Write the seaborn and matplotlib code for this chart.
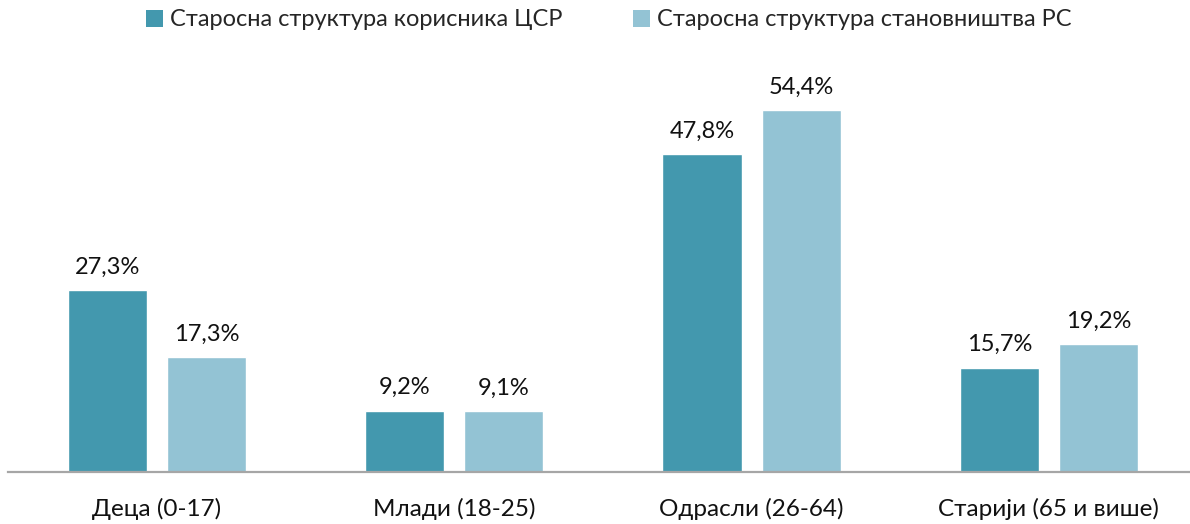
import matplotlib
matplotlib.use("Agg")
import matplotlib.pyplot as plt
import seaborn as sns
import pandas as pd
from matplotlib.patches import Patch

categories = ["Деца (0-17)", "Млади (18-25)", "Одрасли (26-64)", "Старији (65 и више)"]
series_names = ["Старосна структура корисника ЦСР", "Старосна структура становништва РС"]
users_csr = [27.3, 9.2, 47.8, 15.7]
population_rs = [17.3, 9.1, 54.4, 19.2]
colors = ["#4398AE", "#93C3D4"]

df = pd.DataFrame({
    "cat": categories * 2,
    "series": [series_names[0]] * 4 + [series_names[1]] * 4,
    "value": users_csr + population_rs,
})

sns.set_theme(style="white")
plt.rcParams["font.family"] = ["Lato", "DejaVu Sans"]

W, H = 1190, 524
fig = plt.figure(figsize=(W / 100, H / 100), dpi=100)
ax_left, ax_right = 8 / W, 1.0
ax_bottom = (H - 472) / H
ax_top = (H - 73) / H
ax = fig.add_axes([ax_left, ax_bottom, ax_right - ax_left, ax_top - ax_bottom])

sns.barplot(data=df, x="cat", y="value", hue="series", palette=colors,
            width=0.666, gap=0.2, ax=ax, legend=False, saturation=1)

ax.set_xlim((8 - 157) / 297.3, (1190 - 157) / 297.3)
ax.set_ylim(0, 60)
for s in ["top", "right", "left"]:
    ax.spines[s].set_visible(False)
ax.spines["bottom"].set_color("#A6A6A6")
ax.spines["bottom"].set_linewidth(1.6)
ax.set_yticks([])
ax.set_xlabel("")
ax.set_ylabel("")
ax.tick_params(axis="x", length=0, pad=19, labelsize=17.5, labelcolor="#111111")

for cont in ax.containers:
    labels = [f"{v:.1f}".replace(".", ",") + "%" for v in cont.datavalues]
    ax.bar_label(cont, labels=labels, padding=9, fontsize=17, color="#111111")

handles = [Patch(facecolor=c, edgecolor="none") for c in colors]
fig.legend(handles, series_names, loc="center", bbox_to_anchor=(609 / W, 1 - 20 / H),
           ncol=2, frameon=False, fontsize=17, handlelength=0.7, handleheight=0.7,
           handletextpad=0.3, columnspacing=3.0)

fig.savefig("out.png", dpi=100)
